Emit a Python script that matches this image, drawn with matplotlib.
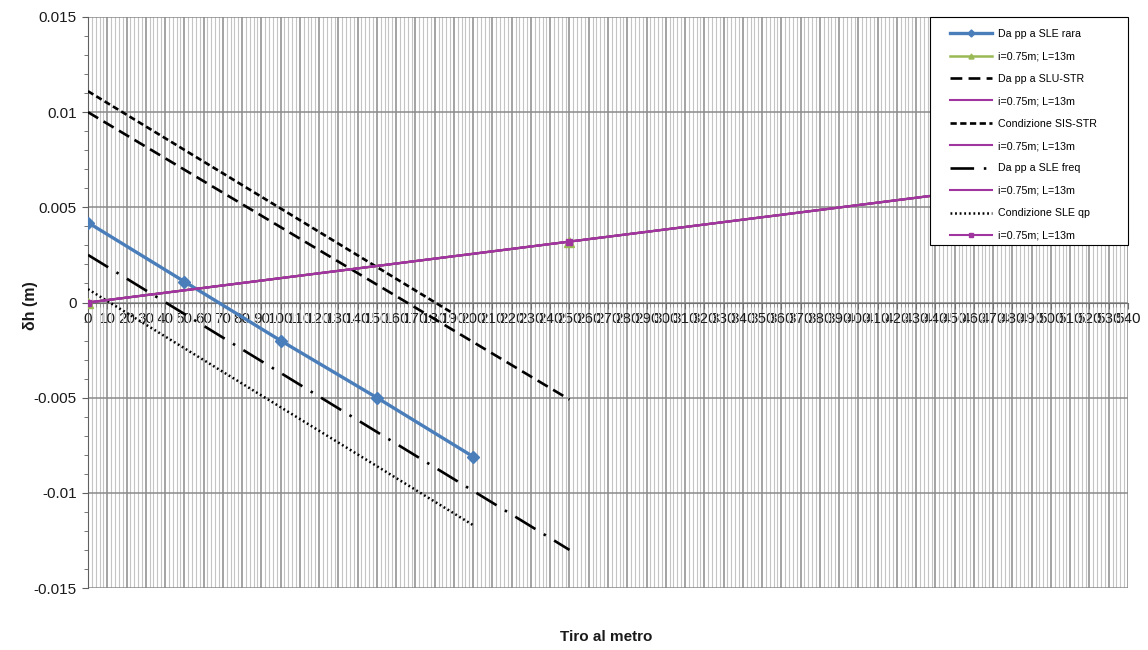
import matplotlib
matplotlib.use("Agg")
import matplotlib.pyplot as plt
from matplotlib.ticker import MultipleLocator
from matplotlib.patches import Rectangle

plt.rcParams['font.family'] = ['Liberation Sans', 'DejaVu Sans']
plt.rcParams['lines.scale_dashes'] = False

# ---- data ----
x_rara = [0, 50, 100, 150, 200]
y_rara = [0.0042, 0.0011, -0.0020, -0.0050, -0.0081]

x_incl = [0, 250, 500]
y_incl = [0.0, 0.0032, 0.0064]

x_slu = [0, 250]
y_slu = [0.0100, -0.0051]

x_sis = [0, 190]
y_sis = [0.0111, -0.0006]

x_freq = [0, 250]
y_freq = [0.0025, -0.0130]

x_qp = [0, 200]
y_qp = [0.0007, -0.0117]

lbl_rara = "Da pp a SLE rara"
lbl_incl = "i=0.75m; L=13m"
lbl_slu = "Da pp a SLU-STR"
lbl_sis = "Condizione SIS-STR"
lbl_freq = "Da pp a SLE freq"
lbl_qp = "Condizione SLE qp"

x_ticks = list(range(0, 541, 10))
y_ticks = [-0.015, -0.01, -0.005, 0, 0.005, 0.01, 0.015]
y_ticklabels = ["-0.015", "-0.01", "-0.005", "0", "0.005", "0.01", "0.015"]

# ---- figure ----
W, H = 1148, 650
fig = plt.figure(figsize=(W / 100, H / 100), dpi=100)
ax = fig.add_axes([88/W, 1-588/H, (1128-88)/W, (588-17)/H])

blue = '#4a7ebb'
green = '#98b954'
purple = '#a0359f'

h = []
h += ax.plot(x_rara, y_rara, color=blue, lw=2.4, marker='D', ms=6.5, label=lbl_rara, zorder=5)
h += ax.plot(x_incl, y_incl, color=green, lw=1.8, marker='^', ms=6.5, label=lbl_incl, zorder=4)
h += ax.plot(x_slu, y_slu, color='black', lw=1.9, dashes=(8.5, 4.5), label=lbl_slu, zorder=4)
h += ax.plot(x_incl, y_incl, color=purple, lw=1.5, label=lbl_incl, zorder=5)
h += ax.plot(x_sis, y_sis, color='black', lw=1.9, dashes=(4.5, 2.5), label=lbl_sis, zorder=4)
h += ax.plot(x_incl, y_incl, color=purple, lw=1.5, label=lbl_incl, zorder=5)
h += ax.plot(x_freq, y_freq, color='black', lw=1.9, dashes=(17, 7, 1.8, 7), label=lbl_freq, zorder=4)
h += ax.plot(x_incl, y_incl, color=purple, lw=1.5, label=lbl_incl, zorder=5)
h += ax.plot(x_qp, y_qp, color='black', lw=1.8, dashes=(1.3, 2.0), label=lbl_qp, zorder=4)
h += ax.plot(x_incl, y_incl, color=purple, lw=1.5, marker='s', ms=4.5, label=lbl_incl, zorder=6)

ax.set_xlim(0, 540)
ax.set_ylim(-0.015, 0.015)

ax.xaxis.set_minor_locator(MultipleLocator(2))
ax.set_xticks(x_ticks)
ax.set_xticklabels([str(v) for v in x_ticks])
ax.set_yticks(y_ticks)
ax.set_yticklabels(y_ticklabels)
ax.yaxis.set_minor_locator(MultipleLocator(0.001))

ax.grid(which='minor', axis='x', color='#c4c4c4', lw=0.8, zorder=0)
ax.grid(which='major', axis='x', color='#8a8a8a', lw=1.1, zorder=1)
ax.grid(which='major', axis='y', color='#8a8a8a', lw=1.1, zorder=1)
ax.set_axisbelow(True)

ax.spines['top'].set_visible(False)
ax.spines['right'].set_visible(False)
ax.spines['bottom'].set_position(('data', 0))
ax.spines['bottom'].set_color('#707070')
ax.spines['left'].set_color('#606060')
ax.spines['bottom'].set_zorder(2)

ax.tick_params(axis='x', which='major', length=4, color='#707070', labelsize=11, pad=3, labelcolor='#1a1a1a')
ax.tick_params(axis='x', which='minor', length=3, color='#909090')
ax.tick_params(axis='y', which='major', length=4, color='#606060', labelsize=11, pad=4, labelcolor='#1a1a1a')
ax.tick_params(axis='y', which='minor', length=3, color='#606060')

fig.text(30/W, 1-306/H, "δh (m)", rotation=90, ha='center', va='center',
         fontsize=11.5, fontweight='bold', color='#1a1a1a')
fig.text(606/W, 1-637/H, "Tiro al metro", ha='center', va='center',
         fontsize=11, fontweight='bold', color='#1a1a1a')

# legend frame (pixel box 930..1128 x 17..245)
def ax_x(px):
    return (px - 88) / 1040
def ax_y(py):
    return (588 - py) / 571

frame = Rectangle((ax_x(930), ax_y(245)), ax_x(1128) - ax_x(930), ax_y(17) - ax_y(245),
                  transform=ax.transAxes, facecolor='white', edgecolor='black',
                  lw=0.8, zorder=9, clip_on=False)
ax.add_patch(frame)

leg = ax.legend(handles=h, loc='upper left', bbox_to_anchor=(ax_x(950), ax_y(29)),
                borderaxespad=0, borderpad=0, frameon=False,
                fontsize=7.7, handlelength=3.9, handletextpad=0.55, labelspacing=1.16,
                markerscale=0.55)
leg.set_zorder(10)

fig.savefig("out.png", dpi=100)
